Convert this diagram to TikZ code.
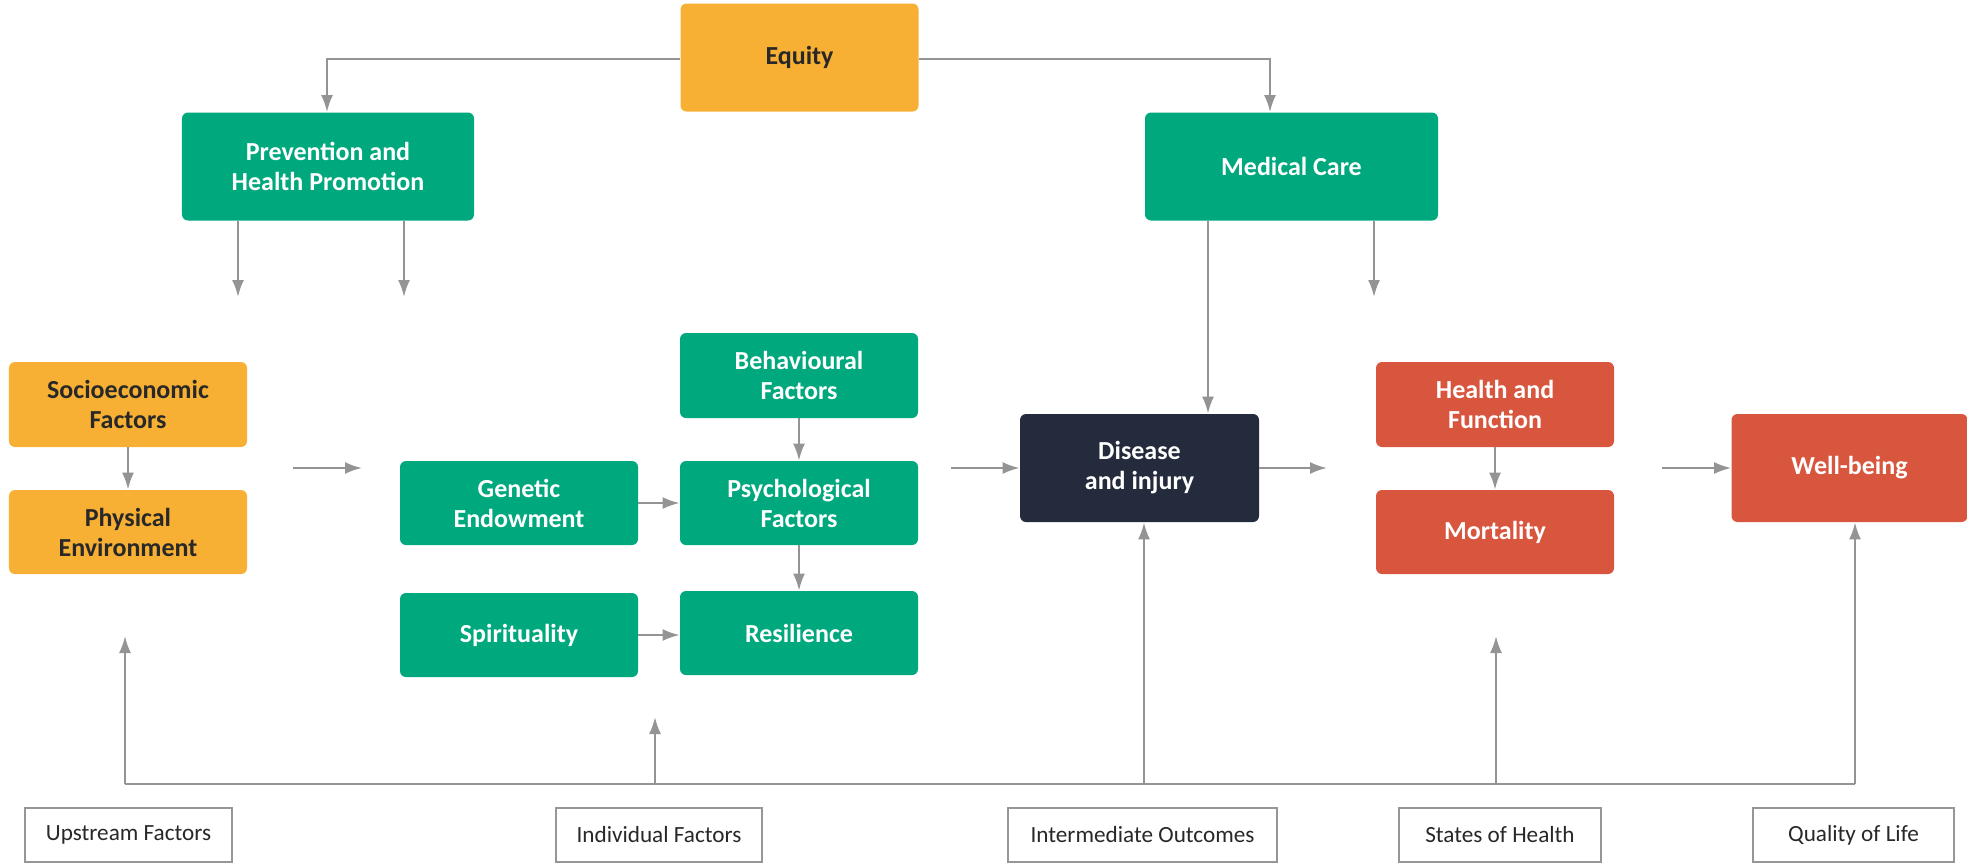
\documentclass[tikz,border=0pt]{standalone}
\usepackage{fontspec}
\setmainfont{Carlito}
\usetikzlibrary{arrows.meta}
\definecolor{eqorange}{RGB}{247,176,52}
\definecolor{boxgreen}{RGB}{0,168,126}
\definecolor{boxred}{RGB}{216,85,62}
\definecolor{boxnavy}{RGB}{35,43,60}
\definecolor{arrgray}{RGB}{148,148,148}
\definecolor{txtdark}{RGB}{40,40,40}
\definecolor{lblborder}{RGB}{150,150,150}
\tikzset{
  basebox/.style={rounded corners=3bp, inner sep=0pt, align=center,
    font=\fontsize{13bp}{15bp}\selectfont\bfseries},
  orangebox/.style={basebox, fill=eqorange, text=txtdark},
  greenbox/.style={basebox, fill=boxgreen, text=white},
  redbox/.style={basebox, fill=boxred, text=white},
  navybox/.style={basebox, fill=boxnavy, text=white},
  lblbox/.style={draw=lblborder, line width=0.8bp, fill=white, inner sep=0pt,
    minimum height=27bp, text=txtdark, font=\fontsize{11.6bp}{13bp}\selectfont},
  arr/.style={draw=arrgray, line width=1.1bp, -{Latex[length=8.5bp,width=6bp]}},
  plain/.style={draw=arrgray, line width=1.1bp},
}
\begin{document}
\begin{tikzpicture}[x=0.5bp,y=-0.5bp]
\useasboundingbox (0,0) rectangle (1967,866);
% top
\node[orangebox, minimum width=119bp, minimum height=54bp] (equity) at (799.5,57.5) {Equity};
\node[greenbox, minimum width=146bp, minimum height=54bp] (prev) at (328,166.5) {Prevention and\\Health Promotion};
\node[greenbox, minimum width=146.5bp, minimum height=54bp] (med) at (1291.5,166.5) {Medical Care};
% upstream
\node[orangebox, minimum width=119bp, minimum height=42.5bp] (socio) at (128,404.5) {Socioeconomic\\Factors};
\node[orangebox, minimum width=119bp, minimum height=42bp] (phys) at (128,532) {Physical\\Environment};
% individual
\node[greenbox, minimum width=119bp, minimum height=42.5bp] (behav) at (799,375.5) {Behavioural\\Factors};
\node[greenbox, minimum width=119bp, minimum height=42bp] (gen) at (519,503) {Genetic\\Endowment};
\node[greenbox, minimum width=119bp, minimum height=42bp] (psych) at (799,503) {Psychological\\Factors};
\node[greenbox, minimum width=119bp, minimum height=42bp] (spir) at (519,635) {Spirituality};
\node[greenbox, minimum width=119bp, minimum height=42bp] (resil) at (799,633) {Resilience};
% outcomes
\node[navybox, minimum width=119.5bp, minimum height=54bp] (dis) at (1139.5,468) {Disease\\and injury};
\node[redbox, minimum width=119bp, minimum height=42.5bp] (health) at (1495,404.5) {Health and\\Function};
\node[redbox, minimum width=119bp, minimum height=42bp] (mort) at (1495,532) {Mortality};
\node[redbox, minimum width=118bp, minimum height=54bp] (well) at (1849.5,468) {Well-being};
% labels
\node[lblbox, minimum width=103.5bp] (l1) at (128.5,835) {Upstream Factors};
\node[lblbox, minimum width=103bp] (l2) at (659,835) {Individual Factors};
\node[lblbox, minimum width=134.5bp] (l3) at (1142.5,835) {Intermediate Outcomes};
\node[lblbox, minimum width=101bp] (l4) at (1500,835) {States of Health};
\node[lblbox, minimum width=100.5bp] (l5) at (1853.5,835) {Quality of Life};
% coordinates
\coordinate (eqL) at (327,59);
\coordinate (eqR) at (1270,59);
\coordinate (pa) at (238,297);
\coordinate (pb) at (404,297);
\coordinate (ma) at (1208,297);
\coordinate (mb) at (1374,297);
\coordinate (u1) at (293,468);
\coordinate (u2) at (362,468);
\coordinate (i1) at (951,468);
\coordinate (o1) at (1327,468);
\coordinate (s1) at (1662,468);
\coordinate (bL) at (125,784);
\coordinate (bR) at (1855,784);
\coordinate (t1) at (125,636);
\coordinate (t2) at (655,717);
\coordinate (b2) at (655,784);
\coordinate (b3) at (1144,784);
\coordinate (t4) at (1496,636);
\coordinate (b4) at (1496,784);
% top connectors
\draw[arr] (equity.west |- eqL) -- (eqL) -- (prev.north -| eqL);
\draw[arr] (equity.east |- eqR) -- (eqR) -- (med.north -| eqR);
\draw[arr] (prev.south -| pa) -- (pa);
\draw[arr] (prev.south -| pb) -- (pb);
\draw[arr] (med.south -| ma) -- (dis.north -| ma);
\draw[arr] (med.south -| mb) -- (mb);
% middle
\draw[arr] (socio) -- (phys);
\draw[arr] (u1) -- (u2);
\draw[arr] (behav) -- (psych);
\draw[arr] (gen) -- (psych);
\draw[arr] (psych) -- (resil);
\draw[arr] (spir.east) -- (resil.west |- spir.east);
\draw[arr] (i1) -- (dis.west);
\draw[arr] (dis.east) -- (o1);
\draw[arr] (health) -- (mort);
\draw[arr] (s1) -- (well.west);
% bottom
\draw[plain] (bL) -- (bR);
\draw[arr] (bL) -- (t1);
\draw[arr] (b2) -- (t2);
\draw[arr] (b3) -- (dis.south -| b3);
\draw[arr] (b4) -- (t4);
\draw[arr] (bR) -- (well.south -| bR);
\end{tikzpicture}
\end{document}
